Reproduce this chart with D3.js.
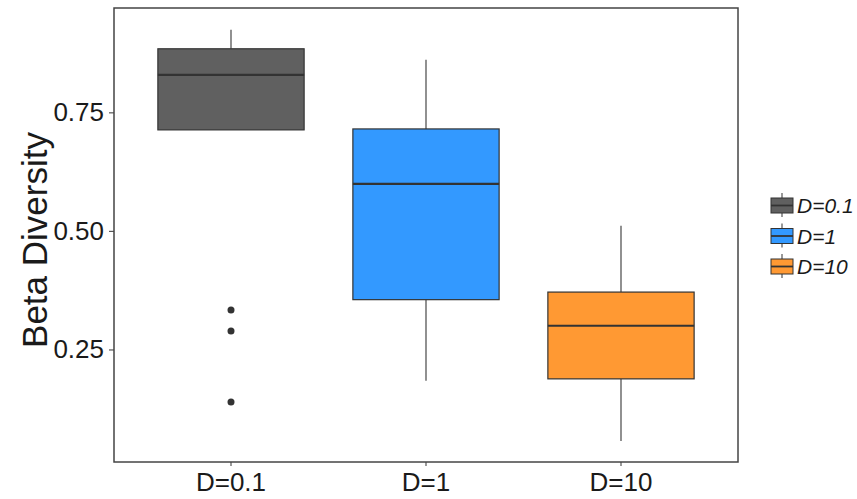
<!DOCTYPE html>
<html lang="en">
<head>
<meta charset="utf-8">
<title>Beta Diversity</title>
<script src="https://d3js.org/d3.v7.min.js"></script>
<style>
  body { margin: 0; background: #fff; font-family: Arial, "Liberation Sans", sans-serif; }
  svg { display: block; }
  .tick text { font-size: 26px; fill: #1a1a1a; font-family: Arial, "Liberation Sans", sans-serif; }
  .legend text { font-size: 21px; font-style: italic; fill: #1a1a1a; }
</style>
</head>
<body>
<svg width="857" height="499"></svg>
<script>
// groups and their five-number summaries
var groups = ['D=0.1', 'D=1', 'D=10'];
var colors = ['#606060', '#3399ff', '#ff9933'];
var whiskerLow = [0.713, 0.184, 0.057];
var q1 = [0.713, 0.355, 0.188];
var median = [0.829, 0.599, 0.300];
var q3 = [0.884, 0.715, 0.371];
var whiskerHigh = [0.924, 0.861, 0.511];
var outliers = [[0.333, 0.289, 0.139], [], []];
var yTicks = [0.25, 0.50, 0.75];

var data = groups.map((g, i) => ({
  group: g, color: colors[i],
  lo: whiskerLow[i], q1: q1[i], med: median[i], q3: q3[i], hi: whiskerHigh[i],
  out: outliers[i]
}));

var svg = d3.select('svg');
var pLeft = 114, pRight = 738, pTop = 8, pBottom = 462;

var x = d3.scaleBand()
  .domain(groups)
  .range([pLeft, pRight])
  .paddingInner(0)
  .paddingOuter(0.1);
var y = d3.scaleLinear()
  .domain([0.0127, 0.970])
  .range([pBottom, pTop]);

var boxW = x.bandwidth() * 0.75;
var cx = d => x(d.group) + x.bandwidth() / 2;

// axes
var xAxis = svg.append('g')
  .attr('transform', `translate(0, ${pBottom})`)
  .call(d3.axisBottom(x).tickSize(4).tickPadding(7));
var yAxis = svg.append('g')
  .attr('transform', `translate(${pLeft}, 0)`)
  .call(d3.axisLeft(y).tickValues(yTicks).tickFormat(d3.format('.2f')).tickSize(5).tickPadding(5));
[xAxis, yAxis].forEach(a => {
  a.select('.domain').remove();
  a.selectAll('.tick line').attr('stroke', '#555').attr('stroke-width', 1.2);
});

// boxes
var boxes = svg.append('g').selectAll('g')
  .data(data)
  .join('g');

boxes.append('line')
  .attr('x1', cx).attr('x2', cx)
  .attr('y1', d => y(d.hi)).attr('y2', d => y(d.q3))
  .attr('stroke', '#555').attr('stroke-width', 1.3);
boxes.append('line')
  .attr('x1', cx).attr('x2', cx)
  .attr('y1', d => y(d.q1)).attr('y2', d => y(d.lo))
  .attr('stroke', '#555').attr('stroke-width', 1.3);

boxes.append('rect')
  .attr('x', d => cx(d) - boxW / 2)
  .attr('width', boxW)
  .attr('y', d => y(d.q3))
  .attr('height', d => y(d.q1) - y(d.q3))
  .attr('fill', d => d.color)
  .attr('stroke', '#333')
  .attr('stroke-width', 1.2);

boxes.append('line')
  .attr('x1', d => cx(d) - boxW / 2).attr('x2', d => cx(d) + boxW / 2)
  .attr('y1', d => y(d.med)).attr('y2', d => y(d.med))
  .attr('stroke', '#333').attr('stroke-width', 2.2);

boxes.selectAll('circle')
  .data(d => d.out.map(v => ({ v: v, d: d })))
  .join('circle')
  .attr('cx', o => cx(o.d))
  .attr('cy', o => y(o.v))
  .attr('r', 3.5)
  .attr('fill', '#333');

// panel border
svg.append('rect')
  .attr('x', pLeft).attr('y', pTop)
  .attr('width', pRight - pLeft).attr('height', pBottom - pTop)
  .attr('fill', 'none').attr('stroke', '#444').attr('stroke-width', 1.5);

// y title
svg.append('text')
  .attr('transform', `translate(47, 240) rotate(-90)`)
  .attr('text-anchor', 'middle')
  .style('font-size', '35px')
  .attr('fill', '#1a1a1a')
  .text('Beta Diversity');

// legend
var legend = svg.append('g').attr('class', 'legend')
  .attr('transform', 'translate(770, 193)');
var keys = legend.selectAll('g')
  .data(data)
  .join('g')
  .attr('transform', (d, i) => `translate(0, ${i * 30.5})`);
keys.append('line')
  .attr('x1', 12).attr('x2', 12).attr('y1', 0).attr('y2', 24)
  .attr('stroke', '#555').attr('stroke-width', 1.2);
keys.append('rect')
  .attr('x', 1).attr('y', 5).attr('width', 22).attr('height', 15)
  .attr('fill', d => d.color).attr('stroke', '#333').attr('stroke-width', 1);
keys.append('line')
  .attr('x1', 1).attr('x2', 23).attr('y1', 12.5).attr('y2', 12.5)
  .attr('stroke', '#333').attr('stroke-width', 1.8);
keys.append('text')
  .attr('x', 27).attr('y', 20)
  .text(d => d.group);
</script>
</body>
</html>
